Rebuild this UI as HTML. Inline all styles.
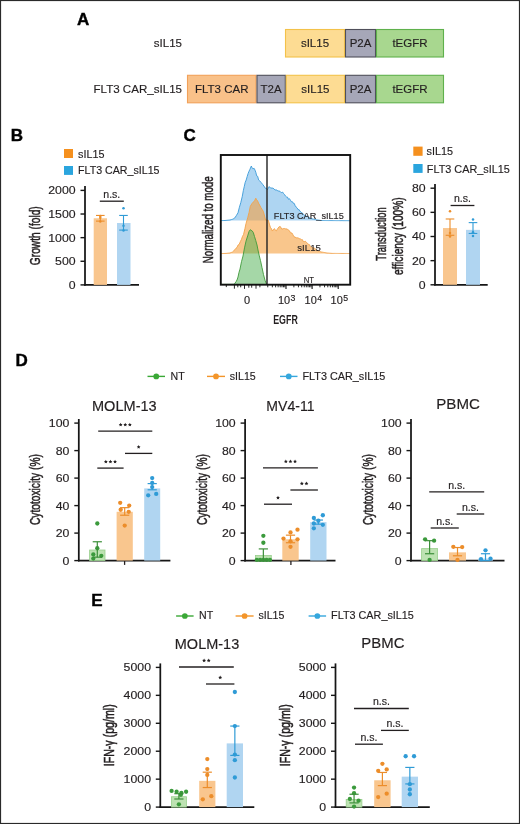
<!DOCTYPE html>
<html><head><meta charset="utf-8"><style>
html,body{margin:0;padding:0;background:#fff;}
svg{display:block;will-change:transform;}
text{font-family:"Liberation Sans", sans-serif;}
</style></head><body>
<svg width="520" height="824" viewBox="0 0 520 824" font-family='"Liberation Sans", sans-serif' fill="#231f20">
<rect x="0" y="0" width="520" height="824" fill="#fff"/>
<rect x="0.5" y="0.5" width="519" height="823" fill="none" stroke="#2a2a2a" stroke-width="1.2"/>
<text x="77" y="24.9" font-size="17" font-weight="bold" fill="#000" stroke="#000" stroke-width="0.4">A</text>
<text x="10.8" y="140.8" font-size="17" font-weight="bold" fill="#000" stroke="#000" stroke-width="0.4">B</text>
<text x="183.5" y="140.6" font-size="17" font-weight="bold" fill="#000" stroke="#000" stroke-width="0.4">C</text>
<text x="15.6" y="365.8" font-size="17" font-weight="bold" fill="#000" stroke="#000" stroke-width="0.4">D</text>
<text x="91.2" y="605.6" font-size="17" font-weight="bold" fill="#000" stroke="#000" stroke-width="0.4">E</text>
<rect x="285.5" y="29.5" width="59" height="27.5" fill="#fddc93" stroke="#f3c24a" stroke-width="1.1"/>
<text x="315" y="47.45" font-size="11.5" text-anchor="middle" stroke="#231f20" stroke-width="0.15">sIL15</text>
<rect x="345.5" y="29.5" width="30" height="27.5" fill="#a6a7b8" stroke="#4f4f5a" stroke-width="1.1"/>
<text x="360.5" y="47.45" font-size="11.5" text-anchor="middle" stroke="#231f20" stroke-width="0.15">P2A</text>
<rect x="376.5" y="29.5" width="67" height="27.5" fill="#a8d78f" stroke="#5fb14c" stroke-width="1.1"/>
<text x="410" y="47.45" font-size="11.5" text-anchor="middle" stroke="#231f20" stroke-width="0.15">tEGFR</text>
<rect x="187.5" y="75.3" width="68.5" height="27.5" fill="#f9c189" stroke="#f1a15a" stroke-width="1.1"/>
<text x="221.75" y="93.25" font-size="11.5" text-anchor="middle" stroke="#231f20" stroke-width="0.15">FLT3 CAR</text>
<rect x="257" y="75.3" width="28.3" height="27.5" fill="#a6a7b8" stroke="#4f4f5a" stroke-width="1.1"/>
<text x="271.15" y="93.25" font-size="11.5" text-anchor="middle" stroke="#231f20" stroke-width="0.15">T2A</text>
<rect x="286.3" y="75.3" width="58.2" height="27.5" fill="#fddc93" stroke="#f3c24a" stroke-width="1.1"/>
<text x="315.4" y="93.25" font-size="11.5" text-anchor="middle" stroke="#231f20" stroke-width="0.15">sIL15</text>
<rect x="345.5" y="75.3" width="30" height="27.5" fill="#a6a7b8" stroke="#4f4f5a" stroke-width="1.1"/>
<text x="360.5" y="93.25" font-size="11.5" text-anchor="middle" stroke="#231f20" stroke-width="0.15">P2A</text>
<rect x="376.5" y="75.3" width="67" height="27.5" fill="#a8d78f" stroke="#5fb14c" stroke-width="1.1"/>
<text x="410" y="93.25" font-size="11.5" text-anchor="middle" stroke="#231f20" stroke-width="0.15">tEGFR</text>
<text x="182" y="47.2" font-size="11.5" text-anchor="end" stroke="#231f20" stroke-width="0.15">sIL15</text>
<text x="182" y="93.2" font-size="11.5" text-anchor="end" textLength="88.5" lengthAdjust="spacingAndGlyphs" stroke="#231f20" stroke-width="0.15">FLT3 CAR_sIL15</text>
<rect x="64" y="149" width="9" height="9" fill="#f5901e"/>
<text x="78" y="157.6" font-size="10.8" stroke="#231f20" stroke-width="0.15">sIL15</text>
<rect x="64" y="166" width="9" height="8.9" fill="#2aa5de"/>
<text x="78" y="173.8" font-size="10.8" textLength="81.5" lengthAdjust="spacingAndGlyphs" stroke="#231f20" stroke-width="0.15">FLT3 CAR_sIL15</text>
<line x1="85" y1="186" x2="85" y2="285.7" stroke="#161616" stroke-width="1.75"/>
<line x1="84.2" y1="284.9" x2="139" y2="284.9" stroke="#161616" stroke-width="1.75"/>
<line x1="80.5" y1="284.9" x2="85" y2="284.9" stroke="#161616" stroke-width="1.4"/>
<text x="75.6" y="288.79" font-size="10.8" text-anchor="end" textLength="6.85" lengthAdjust="spacingAndGlyphs" stroke="#231f20" stroke-width="0.15">0</text>
<line x1="80.5" y1="261.27" x2="85" y2="261.27" stroke="#161616" stroke-width="1.4"/>
<text x="75.6" y="265.16" font-size="10.8" text-anchor="end" textLength="20.55" lengthAdjust="spacingAndGlyphs" stroke="#231f20" stroke-width="0.15">500</text>
<line x1="80.5" y1="237.65" x2="85" y2="237.65" stroke="#161616" stroke-width="1.4"/>
<text x="75.6" y="241.54" font-size="10.8" text-anchor="end" textLength="27.4" lengthAdjust="spacingAndGlyphs" stroke="#231f20" stroke-width="0.15">1000</text>
<line x1="80.5" y1="214.02" x2="85" y2="214.02" stroke="#161616" stroke-width="1.4"/>
<text x="75.6" y="217.91" font-size="10.8" text-anchor="end" textLength="27.4" lengthAdjust="spacingAndGlyphs" stroke="#231f20" stroke-width="0.15">1500</text>
<line x1="80.5" y1="190.4" x2="85" y2="190.4" stroke="#161616" stroke-width="1.4"/>
<text x="75.6" y="194.29" font-size="10.8" text-anchor="end" textLength="27.4" lengthAdjust="spacingAndGlyphs" stroke="#231f20" stroke-width="0.15">2000</text>
<rect x="93.7" y="218.28" width="13.3" height="66.62" fill="#f9c68e"/>
<rect x="117" y="223" width="13.5" height="61.9" fill="#b0d5f1"/>
<line x1="100.3" y1="215.44" x2="100.3" y2="221.11" stroke="#ec8d2a" stroke-width="1.1"/>
<line x1="96" y1="215.44" x2="104.6" y2="215.44" stroke="#ec8d2a" stroke-width="1.1"/>
<line x1="96" y1="221.11" x2="104.6" y2="221.11" stroke="#ec8d2a" stroke-width="1.1"/>
<circle cx="100.3" cy="215.91" r="1.25" fill="#ec8d2a"/>
<circle cx="100.3" cy="217.8" r="1.25" fill="#ec8d2a"/>
<circle cx="100.3" cy="221.58" r="1.25" fill="#ec8d2a"/>
<line x1="123.5" y1="215.44" x2="123.5" y2="230.09" stroke="#2f9bd6" stroke-width="1.1"/>
<line x1="119.2" y1="215.44" x2="127.8" y2="215.44" stroke="#2f9bd6" stroke-width="1.1"/>
<line x1="119.2" y1="230.09" x2="127.8" y2="230.09" stroke="#2f9bd6" stroke-width="1.1"/>
<circle cx="123.5" cy="208.35" r="1.25" fill="#2f9bd6"/>
<circle cx="123.5" cy="225.84" r="1.25" fill="#2f9bd6"/>
<circle cx="123.5" cy="230.56" r="1.25" fill="#2f9bd6"/>
<line x1="99.8" y1="201.2" x2="123.8" y2="201.2" stroke="#231f20" stroke-width="1.3"/>
<text x="111.8" y="197.9" font-size="10.4" text-anchor="middle" textLength="17" lengthAdjust="spacingAndGlyphs" stroke="#231f20" stroke-width="0.15">n.s.</text>
<text x="39.8" y="235.7" font-size="14.8" text-anchor="middle" textLength="58.9" lengthAdjust="spacingAndGlyphs" transform="rotate(-90 39.8 235.7)" stroke="#231f20" stroke-width="0.5">Growth (fold)</text>
<path d="M220.8 220.6 L220.8 220.6 L221.85 220.57 L222.9 220.55 L223.95 220.53 L225 220.5 L226 220.4 L227 220.3 L228 220.2 L229 220.1 L230 220 L231.35 219.6 L232.7 219.2 L233.75 218.6 L234.8 217.9 L236.5 215.32 L238 212.77 L239.4 207.23 L240.8 202.56 L242.3 196.26 L243.3 190.7 L244.2 186.81 L245.2 182.37 L246.2 179.98 L247.2 176.43 L248.1 173.56 L249 171.26 L250 169.19 L251.3 166.02 L252.1 167.7 L252.9 168.83 L254.2 168.41 L255 170.14 L255.8 172.21 L256.7 175.86 L257.7 176.38 L258.6 179.95 L259.6 180.72 L261 182.36 L262.5 184.21 L264 186.16 L265.4 188.37 L266.35 188.18 L267.3 189.85 L268.3 188.25 L269.2 186.57 L270.6 188.09 L272.1 188.01 L273.07 188.31 L274.03 188.87 L275 190.02 L275.95 189.92 L276.9 190.07 L277.85 190.9 L278.8 191.02 L279.77 191.11 L280.75 192.38 L281.73 192.58 L282.7 192.14 L283.65 193.68 L284.6 194.55 L285.55 196.18 L286.5 196.91 L287.48 197.07 L288.45 199.26 L289.42 198.66 L290.4 200.15 L291.35 201.74 L292.3 201.62 L293.25 203.21 L294.2 203.37 L295.18 205.7 L296.15 207.08 L297.12 207.93 L298.1 209.68 L299.05 209.61 L300 211.25 L300.95 212.02 L301.9 212.94 L302.88 213.46 L303.85 214.74 L304.82 215.54 L305.8 215.67 L306.73 216.39 L307.67 216.39 L308.6 217.45 L309.57 217.83 L310.53 218.44 L311.5 218.6 L312.47 218.87 L313.43 219.13 L314.4 219.4 L315.37 219.57 L316.33 219.73 L317.3 219.9 L318.23 220.05 L319.15 220.2 L320.07 220.35 L321 220.5 L321.91 220.51 L322.82 220.51 L323.74 220.52 L324.65 220.53 L325.56 220.53 L326.48 220.54 L327.39 220.54 L328.3 220.55 L329.21 220.56 L330.12 220.56 L331.04 220.57 L331.95 220.57 L332.86 220.58 L333.77 220.59 L334.69 220.59 L335.6 220.6 L336.51 220.61 L337.43 220.61 L338.34 220.62 L339.25 220.62 L340.16 220.63 L341.07 220.64 L341.99 220.64 L342.9 220.65 L343.81 220.66 L344.72 220.66 L345.64 220.67 L346.55 220.67 L347.46 220.68 L348.38 220.69 L349.29 220.69 L350.2 220.7 L350.2 220.6 Z" fill="#3d9be0" fill-opacity="0.42"/>
<path d="M220.8 220.6 L221.85 220.57 L222.9 220.55 L223.95 220.53 L225 220.5 L226 220.4 L227 220.3 L228 220.2 L229 220.1 L230 220 L231.35 219.6 L232.7 219.2 L233.75 218.6 L234.8 217.9 L236.5 215.32 L238 212.77 L239.4 207.23 L240.8 202.56 L242.3 196.26 L243.3 190.7 L244.2 186.81 L245.2 182.37 L246.2 179.98 L247.2 176.43 L248.1 173.56 L249 171.26 L250 169.19 L251.3 166.02 L252.1 167.7 L252.9 168.83 L254.2 168.41 L255 170.14 L255.8 172.21 L256.7 175.86 L257.7 176.38 L258.6 179.95 L259.6 180.72 L261 182.36 L262.5 184.21 L264 186.16 L265.4 188.37 L266.35 188.18 L267.3 189.85 L268.3 188.25 L269.2 186.57 L270.6 188.09 L272.1 188.01 L273.07 188.31 L274.03 188.87 L275 190.02 L275.95 189.92 L276.9 190.07 L277.85 190.9 L278.8 191.02 L279.77 191.11 L280.75 192.38 L281.73 192.58 L282.7 192.14 L283.65 193.68 L284.6 194.55 L285.55 196.18 L286.5 196.91 L287.48 197.07 L288.45 199.26 L289.42 198.66 L290.4 200.15 L291.35 201.74 L292.3 201.62 L293.25 203.21 L294.2 203.37 L295.18 205.7 L296.15 207.08 L297.12 207.93 L298.1 209.68 L299.05 209.61 L300 211.25 L300.95 212.02 L301.9 212.94 L302.88 213.46 L303.85 214.74 L304.82 215.54 L305.8 215.67 L306.73 216.39 L307.67 216.39 L308.6 217.45 L309.57 217.83 L310.53 218.44 L311.5 218.6 L312.47 218.87 L313.43 219.13 L314.4 219.4 L315.37 219.57 L316.33 219.73 L317.3 219.9 L318.23 220.05 L319.15 220.2 L320.07 220.35 L321 220.5 L321.91 220.51 L322.82 220.51 L323.74 220.52 L324.65 220.53 L325.56 220.53 L326.48 220.54 L327.39 220.54 L328.3 220.55 L329.21 220.56 L330.12 220.56 L331.04 220.57 L331.95 220.57 L332.86 220.58 L333.77 220.59 L334.69 220.59 L335.6 220.6 L336.51 220.61 L337.43 220.61 L338.34 220.62 L339.25 220.62 L340.16 220.63 L341.07 220.64 L341.99 220.64 L342.9 220.65 L343.81 220.66 L344.72 220.66 L345.64 220.67 L346.55 220.67 L347.46 220.68 L348.38 220.69 L349.29 220.69 L350.2 220.7" fill="none" stroke="#3a9ad8" stroke-width="0.9"/>
<path d="M220.8 253.5 L220.8 253.6 L221.84 253.56 L222.88 253.52 L223.92 253.48 L224.96 253.44 L226 253.4 L227 253.3 L228 253.2 L229 253.1 L230 253 L231.25 252.5 L232.5 252 L233.75 250.95 L235 249.31 L236 248.22 L237 247.44 L238.1 244.97 L239.2 244.33 L240.35 241.6 L241.5 239.31 L242.5 236.31 L243.5 234.68 L245 228.33 L246 223.55 L247.7 217.8 L249 212.67 L250.3 206.25 L252 203.51 L253.3 202.09 L254.5 200.89 L255.8 198.17 L256.6 200.16 L257.5 200.6 L258.5 203.05 L259.6 205.05 L261 207.69 L262.2 209.52 L263.3 211.37 L264.3 214.92 L265.6 220.12 L266.8 219.92 L268.4 220.37 L269.4 224.16 L270.4 227.37 L271.4 228.61 L272.4 231.05 L273.4 229.61 L274.4 228.62 L275.4 230.32 L276.4 230.84 L277.3 229.16 L278.2 227.98 L279.1 226.72 L280.45 226.65 L281.8 229.22 L283.15 228.65 L284.5 228.47 L285.85 228.99 L287.2 228.91 L288.2 229.97 L289.2 230.49 L290.55 232.74 L291.9 233.01 L292.9 234.72 L293.9 236.68 L295.03 237.06 L296.17 237.85 L297.3 237.79 L298.3 238.03 L299.3 238.62 L300.3 238.86 L301.3 239.65 L302.32 239.55 L303.35 241.57 L304.38 241.61 L305.4 241.27 L306.4 242.3 L307.4 243.33 L308.4 244.21 L309.4 244.62 L310.42 246.57 L311.45 247.41 L312.48 247.28 L313.5 247.98 L314.5 248.23 L315.5 248.98 L316.5 249.9 L317.5 250.55 L318.5 251.21 L319.5 251.19 L320.5 251.68 L321.5 252 L322.58 252.2 L323.66 252.4 L324.74 252.6 L325.82 252.8 L326.9 253 L327.92 253.08 L328.94 253.16 L329.96 253.24 L330.98 253.32 L332 253.4 L332.91 253.41 L333.82 253.41 L334.73 253.41 L335.64 253.42 L336.55 253.43 L337.46 253.43 L338.37 253.44 L339.28 253.44 L340.19 253.44 L341.1 253.45 L342.01 253.46 L342.92 253.46 L343.83 253.47 L344.74 253.47 L345.65 253.47 L346.56 253.48 L347.47 253.49 L348.38 253.49 L349.29 253.5 L350.2 253.5 L350.2 253.5 Z" fill="#f5a040" fill-opacity="0.6"/>
<path d="M220.8 253.6 L221.84 253.56 L222.88 253.52 L223.92 253.48 L224.96 253.44 L226 253.4 L227 253.3 L228 253.2 L229 253.1 L230 253 L231.25 252.5 L232.5 252 L233.75 250.95 L235 249.31 L236 248.22 L237 247.44 L238.1 244.97 L239.2 244.33 L240.35 241.6 L241.5 239.31 L242.5 236.31 L243.5 234.68 L245 228.33 L246 223.55 L247.7 217.8 L249 212.67 L250.3 206.25 L252 203.51 L253.3 202.09 L254.5 200.89 L255.8 198.17 L256.6 200.16 L257.5 200.6 L258.5 203.05 L259.6 205.05 L261 207.69 L262.2 209.52 L263.3 211.37 L264.3 214.92 L265.6 220.12 L266.8 219.92 L268.4 220.37 L269.4 224.16 L270.4 227.37 L271.4 228.61 L272.4 231.05 L273.4 229.61 L274.4 228.62 L275.4 230.32 L276.4 230.84 L277.3 229.16 L278.2 227.98 L279.1 226.72 L280.45 226.65 L281.8 229.22 L283.15 228.65 L284.5 228.47 L285.85 228.99 L287.2 228.91 L288.2 229.97 L289.2 230.49 L290.55 232.74 L291.9 233.01 L292.9 234.72 L293.9 236.68 L295.03 237.06 L296.17 237.85 L297.3 237.79 L298.3 238.03 L299.3 238.62 L300.3 238.86 L301.3 239.65 L302.32 239.55 L303.35 241.57 L304.38 241.61 L305.4 241.27 L306.4 242.3 L307.4 243.33 L308.4 244.21 L309.4 244.62 L310.42 246.57 L311.45 247.41 L312.48 247.28 L313.5 247.98 L314.5 248.23 L315.5 248.98 L316.5 249.9 L317.5 250.55 L318.5 251.21 L319.5 251.19 L320.5 251.68 L321.5 252 L322.58 252.2 L323.66 252.4 L324.74 252.6 L325.82 252.8 L326.9 253 L327.92 253.08 L328.94 253.16 L329.96 253.24 L330.98 253.32 L332 253.4 L332.91 253.41 L333.82 253.41 L334.73 253.41 L335.64 253.42 L336.55 253.43 L337.46 253.43 L338.37 253.44 L339.28 253.44 L340.19 253.44 L341.1 253.45 L342.01 253.46 L342.92 253.46 L343.83 253.47 L344.74 253.47 L345.65 253.47 L346.56 253.48 L347.47 253.49 L348.38 253.49 L349.29 253.5 L350.2 253.5" fill="none" stroke="#f2a24a" stroke-width="0.9"/>
<path d="M220.8 284.4 L220.8 284.4 L221.74 284.39 L222.69 284.39 L223.63 284.38 L224.57 284.37 L225.51 284.36 L226.46 284.36 L227.4 284.35 L228.34 284.34 L229.29 284.34 L230.23 284.33 L231.17 284.32 L232.11 284.31 L233.06 284.31 L234 284.3 L235 283.15 L236 281.74 L237 280 L238 277.05 L239 272.36 L240 269.08 L241.5 261.65 L243 256.05 L244.5 247.86 L246 241.15 L247.7 235.85 L249 231.57 L250.3 229.66 L251.2 230.4 L252 230.69 L253.3 232.56 L254.5 236.5 L255.8 240.69 L257 245 L258 250.06 L259.3 255.87 L260.5 260.63 L262 267.55 L263.5 274.57 L265 280.24 L266.5 284.3 L267 284.4 L267 284.4 Z" fill="#4caf50" fill-opacity="0.5"/>
<path d="M220.8 284.4 L221.74 284.39 L222.69 284.39 L223.63 284.38 L224.57 284.37 L225.51 284.36 L226.46 284.36 L227.4 284.35 L228.34 284.34 L229.29 284.34 L230.23 284.33 L231.17 284.32 L232.11 284.31 L233.06 284.31 L234 284.3 L235 283.15 L236 281.74 L237 280 L238 277.05 L239 272.36 L240 269.08 L241.5 261.65 L243 256.05 L244.5 247.86 L246 241.15 L247.7 235.85 L249 231.57 L250.3 229.66 L251.2 230.4 L252 230.69 L253.3 232.56 L254.5 236.5 L255.8 240.69 L257 245 L258 250.06 L259.3 255.87 L260.5 260.63 L262 267.55 L263.5 274.57 L265 280.24 L266.5 284.3 L267 284.4" fill="none" stroke="#3f9a3a" stroke-width="0.9"/>
<text x="273.8" y="219" font-size="9.8" textLength="70" lengthAdjust="spacingAndGlyphs" stroke="#231f20" stroke-width="0.15">FLT3 CAR_sIL15</text>
<text x="297.3" y="250.5" font-size="9.8" textLength="23.6" lengthAdjust="spacingAndGlyphs" stroke="#231f20" stroke-width="0.15">sIL15</text>
<text x="303.7" y="282.5" font-size="9.8" textLength="10.4" lengthAdjust="spacingAndGlyphs" stroke="#231f20" stroke-width="0.15">NT</text>
<line x1="267" y1="155" x2="267" y2="284.7" stroke="#222" stroke-width="1.4"/>
<rect x="220.8" y="155" width="129.4" height="129.7" fill="none" stroke="#111" stroke-width="1.9"/>
<line x1="286" y1="284.7" x2="286" y2="288.9" stroke="#111" stroke-width="1.1"/>
<line x1="312.1" y1="284.7" x2="312.1" y2="288.9" stroke="#111" stroke-width="1.1"/>
<line x1="338.2" y1="284.7" x2="338.2" y2="288.9" stroke="#111" stroke-width="1.1"/>
<line x1="267.76" y1="284.7" x2="267.76" y2="287.3" stroke="#111" stroke-width="0.9"/>
<line x1="272.35" y1="284.7" x2="272.35" y2="287.3" stroke="#111" stroke-width="0.9"/>
<line x1="275.61" y1="284.7" x2="275.61" y2="287.3" stroke="#111" stroke-width="0.9"/>
<line x1="278.14" y1="284.7" x2="278.14" y2="287.3" stroke="#111" stroke-width="0.9"/>
<line x1="280.21" y1="284.7" x2="280.21" y2="287.3" stroke="#111" stroke-width="0.9"/>
<line x1="281.96" y1="284.7" x2="281.96" y2="287.3" stroke="#111" stroke-width="0.9"/>
<line x1="283.47" y1="284.7" x2="283.47" y2="287.3" stroke="#111" stroke-width="0.9"/>
<line x1="284.81" y1="284.7" x2="284.81" y2="287.3" stroke="#111" stroke-width="0.9"/>
<line x1="293.86" y1="284.7" x2="293.86" y2="287.3" stroke="#111" stroke-width="0.9"/>
<line x1="298.45" y1="284.7" x2="298.45" y2="287.3" stroke="#111" stroke-width="0.9"/>
<line x1="301.71" y1="284.7" x2="301.71" y2="287.3" stroke="#111" stroke-width="0.9"/>
<line x1="304.24" y1="284.7" x2="304.24" y2="287.3" stroke="#111" stroke-width="0.9"/>
<line x1="306.31" y1="284.7" x2="306.31" y2="287.3" stroke="#111" stroke-width="0.9"/>
<line x1="308.06" y1="284.7" x2="308.06" y2="287.3" stroke="#111" stroke-width="0.9"/>
<line x1="309.57" y1="284.7" x2="309.57" y2="287.3" stroke="#111" stroke-width="0.9"/>
<line x1="310.91" y1="284.7" x2="310.91" y2="287.3" stroke="#111" stroke-width="0.9"/>
<line x1="319.96" y1="284.7" x2="319.96" y2="287.3" stroke="#111" stroke-width="0.9"/>
<line x1="324.55" y1="284.7" x2="324.55" y2="287.3" stroke="#111" stroke-width="0.9"/>
<line x1="327.81" y1="284.7" x2="327.81" y2="287.3" stroke="#111" stroke-width="0.9"/>
<line x1="330.34" y1="284.7" x2="330.34" y2="287.3" stroke="#111" stroke-width="0.9"/>
<line x1="332.41" y1="284.7" x2="332.41" y2="287.3" stroke="#111" stroke-width="0.9"/>
<line x1="334.16" y1="284.7" x2="334.16" y2="287.3" stroke="#111" stroke-width="0.9"/>
<line x1="335.67" y1="284.7" x2="335.67" y2="287.3" stroke="#111" stroke-width="0.9"/>
<line x1="337.01" y1="284.7" x2="337.01" y2="287.3" stroke="#111" stroke-width="0.9"/>
<line x1="226.3" y1="284.7" x2="226.3" y2="287.1" stroke="#111" stroke-width="0.9"/>
<line x1="234.4" y1="284.7" x2="234.4" y2="288.7" stroke="#111" stroke-width="0.9"/>
<line x1="237.8" y1="284.7" x2="237.8" y2="287.3" stroke="#111" stroke-width="0.9"/>
<line x1="240.7" y1="284.7" x2="240.7" y2="287.3" stroke="#111" stroke-width="0.9"/>
<line x1="244.5" y1="284.7" x2="244.5" y2="288.9" stroke="#111" stroke-width="0.9"/>
<line x1="248.8" y1="284.7" x2="248.8" y2="287.7" stroke="#111" stroke-width="0.9"/>
<line x1="251.7" y1="284.7" x2="251.7" y2="287.7" stroke="#111" stroke-width="0.9"/>
<line x1="256" y1="284.7" x2="256" y2="288.7" stroke="#111" stroke-width="0.9"/>
<line x1="259.9" y1="284.7" x2="259.9" y2="287.3" stroke="#111" stroke-width="0.9"/>
<text x="247.1" y="304.4" font-size="11" text-anchor="middle" stroke="#231f20" stroke-width="0.15">0</text>
<text x="277.9" y="304.4" font-size="11" textLength="12.2" lengthAdjust="spacingAndGlyphs" stroke="#231f20" stroke-width="0.15">10</text>
<text x="290.5" y="300.6" font-size="8.8" stroke="#231f20" stroke-width="0.15">3</text>
<text x="304.6" y="304.4" font-size="11" textLength="12.2" lengthAdjust="spacingAndGlyphs" stroke="#231f20" stroke-width="0.15">10</text>
<text x="317.2" y="300.6" font-size="8.8" stroke="#231f20" stroke-width="0.15">4</text>
<text x="330.6" y="304.4" font-size="11" textLength="12.2" lengthAdjust="spacingAndGlyphs" stroke="#231f20" stroke-width="0.15">10</text>
<text x="343.2" y="300.6" font-size="8.8" stroke="#231f20" stroke-width="0.15">5</text>
<text x="285.5" y="324.3" font-size="12.8" text-anchor="middle" font-weight="bold" textLength="24.6" lengthAdjust="spacingAndGlyphs">EGFR</text>
<text x="213.2" y="219.8" font-size="14.8" text-anchor="middle" textLength="86.8" lengthAdjust="spacingAndGlyphs" transform="rotate(-90 213.2 219.8)" stroke="#231f20" stroke-width="0.5">Normalized to mode</text>
<rect x="413.3" y="146.6" width="9.3" height="9.2" fill="#f5901e"/>
<text x="426.5" y="155" font-size="10.8" stroke="#231f20" stroke-width="0.15">sIL15</text>
<rect x="413.3" y="164" width="9.3" height="8.9" fill="#2aa5de"/>
<text x="426.8" y="172.6" font-size="10.8" textLength="83" lengthAdjust="spacingAndGlyphs" stroke="#231f20" stroke-width="0.15">FLT3 CAR_sIL15</text>
<line x1="435" y1="184.1" x2="435" y2="285.6" stroke="#161616" stroke-width="1.75"/>
<line x1="434.2" y1="284.8" x2="487.7" y2="284.8" stroke="#161616" stroke-width="1.75"/>
<line x1="430.5" y1="284.8" x2="435" y2="284.8" stroke="#161616" stroke-width="1.4"/>
<text x="425.6" y="288.69" font-size="10.8" text-anchor="end" textLength="6.85" lengthAdjust="spacingAndGlyphs" stroke="#231f20" stroke-width="0.15">0</text>
<line x1="430.5" y1="260.65" x2="435" y2="260.65" stroke="#161616" stroke-width="1.4"/>
<text x="425.6" y="264.54" font-size="10.8" text-anchor="end" textLength="13.7" lengthAdjust="spacingAndGlyphs" stroke="#231f20" stroke-width="0.15">20</text>
<line x1="430.5" y1="236.5" x2="435" y2="236.5" stroke="#161616" stroke-width="1.4"/>
<text x="425.6" y="240.39" font-size="10.8" text-anchor="end" textLength="13.7" lengthAdjust="spacingAndGlyphs" stroke="#231f20" stroke-width="0.15">40</text>
<line x1="430.5" y1="212.35" x2="435" y2="212.35" stroke="#161616" stroke-width="1.4"/>
<text x="425.6" y="216.24" font-size="10.8" text-anchor="end" textLength="13.7" lengthAdjust="spacingAndGlyphs" stroke="#231f20" stroke-width="0.15">60</text>
<line x1="430.5" y1="188.2" x2="435" y2="188.2" stroke="#161616" stroke-width="1.4"/>
<text x="425.6" y="192.09" font-size="10.8" text-anchor="end" textLength="13.7" lengthAdjust="spacingAndGlyphs" stroke="#231f20" stroke-width="0.15">80</text>
<rect x="443" y="228.05" width="14" height="56.75" fill="#f9c68e"/>
<rect x="466" y="229.86" width="14" height="54.94" fill="#b0d5f1"/>
<line x1="450" y1="218.99" x2="450" y2="235.29" stroke="#ec8d2a" stroke-width="1.1"/>
<line x1="445.7" y1="218.99" x2="454.3" y2="218.99" stroke="#ec8d2a" stroke-width="1.1"/>
<line x1="445.7" y1="235.29" x2="454.3" y2="235.29" stroke="#ec8d2a" stroke-width="1.1"/>
<circle cx="450" cy="211.14" r="1.25" fill="#ec8d2a"/>
<circle cx="450" cy="232.88" r="1.25" fill="#ec8d2a"/>
<circle cx="450" cy="236.5" r="1.25" fill="#ec8d2a"/>
<line x1="473" y1="222.61" x2="473" y2="233.48" stroke="#2f9bd6" stroke-width="1.1"/>
<line x1="468.7" y1="222.61" x2="477.3" y2="222.61" stroke="#2f9bd6" stroke-width="1.1"/>
<line x1="468.7" y1="233.48" x2="477.3" y2="233.48" stroke="#2f9bd6" stroke-width="1.1"/>
<circle cx="473" cy="219.6" r="1.25" fill="#2f9bd6"/>
<circle cx="473" cy="232.27" r="1.25" fill="#2f9bd6"/>
<circle cx="473" cy="235.9" r="1.25" fill="#2f9bd6"/>
<line x1="450.6" y1="205.5" x2="474.4" y2="205.5" stroke="#231f20" stroke-width="1.3"/>
<text x="462.5" y="202.4" font-size="10.4" text-anchor="middle" textLength="17" lengthAdjust="spacingAndGlyphs" stroke="#231f20" stroke-width="0.15">n.s.</text>
<text x="386.3" y="234" font-size="13.8" text-anchor="middle" textLength="53.4" lengthAdjust="spacingAndGlyphs" transform="rotate(-90 386.3 234)" stroke="#231f20" stroke-width="0.5">Transduction</text>
<text x="403" y="236.2" font-size="13.8" text-anchor="middle" textLength="77.7" lengthAdjust="spacingAndGlyphs" transform="rotate(-90 403 236.2)" stroke="#231f20" stroke-width="0.5">efficiency (100%)</text>
<line x1="147.5" y1="376.4" x2="165" y2="376.4" stroke="#3aa836" stroke-width="1.4"/>
<circle cx="156.25" cy="376.4" r="2.85" fill="#3aa836"/>
<text x="170.5" y="379.5" font-size="10.6" stroke="#231f20" stroke-width="0.15">NT</text>
<line x1="207" y1="376.4" x2="225" y2="376.4" stroke="#f3952a" stroke-width="1.4"/>
<circle cx="216" cy="376.4" r="2.85" fill="#f3952a"/>
<text x="229.8" y="379.5" font-size="10.6" stroke="#231f20" stroke-width="0.15">sIL15</text>
<line x1="280" y1="376.4" x2="297.5" y2="376.4" stroke="#35a7dd" stroke-width="1.4"/>
<circle cx="288.75" cy="376.4" r="2.85" fill="#35a7dd"/>
<text x="302.5" y="379.5" font-size="10.6" textLength="82.8" lengthAdjust="spacingAndGlyphs" stroke="#231f20" stroke-width="0.15">FLT3 CAR_sIL15</text>
<line x1="176.1" y1="616" x2="193.6" y2="616" stroke="#3aa836" stroke-width="1.4"/>
<circle cx="184.85" cy="616" r="2.85" fill="#3aa836"/>
<text x="199.1" y="619.1" font-size="10.6" stroke="#231f20" stroke-width="0.15">NT</text>
<line x1="235.6" y1="616" x2="253.6" y2="616" stroke="#f3952a" stroke-width="1.4"/>
<circle cx="244.6" cy="616" r="2.85" fill="#f3952a"/>
<text x="258.4" y="619.1" font-size="10.6" stroke="#231f20" stroke-width="0.15">sIL15</text>
<line x1="308.6" y1="616" x2="326.1" y2="616" stroke="#35a7dd" stroke-width="1.4"/>
<circle cx="317.35" cy="616" r="2.85" fill="#35a7dd"/>
<text x="331.1" y="619.1" font-size="10.6" textLength="82.8" lengthAdjust="spacingAndGlyphs" stroke="#231f20" stroke-width="0.15">FLT3 CAR_sIL15</text>
<text x="124.35" y="410.8" font-size="13.8" text-anchor="middle" textLength="64.7" lengthAdjust="spacingAndGlyphs" stroke="#231f20" stroke-width="0.15">MOLM-13</text>
<line x1="78.8" y1="419" x2="78.8" y2="561.4" stroke="#161616" stroke-width="1.75"/>
<line x1="78" y1="560.6" x2="170.4" y2="560.6" stroke="#161616" stroke-width="1.75"/>
<line x1="74.3" y1="560.6" x2="78.8" y2="560.6" stroke="#161616" stroke-width="1.4"/>
<text x="69.4" y="564.56" font-size="11" text-anchor="end" textLength="6.85" lengthAdjust="spacingAndGlyphs" stroke="#231f20" stroke-width="0.15">0</text>
<line x1="74.3" y1="533.1" x2="78.8" y2="533.1" stroke="#161616" stroke-width="1.4"/>
<text x="69.4" y="537.06" font-size="11" text-anchor="end" textLength="13.7" lengthAdjust="spacingAndGlyphs" stroke="#231f20" stroke-width="0.15">20</text>
<line x1="74.3" y1="505.6" x2="78.8" y2="505.6" stroke="#161616" stroke-width="1.4"/>
<text x="69.4" y="509.56" font-size="11" text-anchor="end" textLength="13.7" lengthAdjust="spacingAndGlyphs" stroke="#231f20" stroke-width="0.15">40</text>
<line x1="74.3" y1="478.1" x2="78.8" y2="478.1" stroke="#161616" stroke-width="1.4"/>
<text x="69.4" y="482.06" font-size="11" text-anchor="end" textLength="13.7" lengthAdjust="spacingAndGlyphs" stroke="#231f20" stroke-width="0.15">60</text>
<line x1="74.3" y1="450.6" x2="78.8" y2="450.6" stroke="#161616" stroke-width="1.4"/>
<text x="69.4" y="454.56" font-size="11" text-anchor="end" textLength="13.7" lengthAdjust="spacingAndGlyphs" stroke="#231f20" stroke-width="0.15">80</text>
<line x1="74.3" y1="423.1" x2="78.8" y2="423.1" stroke="#161616" stroke-width="1.4"/>
<text x="69.4" y="427.06" font-size="11" text-anchor="end" textLength="20.55" lengthAdjust="spacingAndGlyphs" stroke="#231f20" stroke-width="0.15">100</text>
<line x1="124.6" y1="560.6" x2="124.6" y2="564.9" stroke="#231f20" stroke-width="1.3"/>
<text x="40.4" y="489.6" font-size="14.3" text-anchor="middle" textLength="71" lengthAdjust="spacingAndGlyphs" transform="rotate(-90 40.4 489.6)" stroke="#231f20" stroke-width="0.5">Cytotoxicity (%)</text>
<rect x="89.6" y="550" width="15.4" height="10.6" fill="#bde2b2" stroke="#98cf8c" stroke-width="0.8"/>
<circle cx="97.3" cy="523.48" r="2.15" fill="#3b9a3c"/>
<circle cx="97.3" cy="548.23" r="2.15" fill="#3b9a3c"/>
<circle cx="93.3" cy="554.41" r="2.15" fill="#3b9a3c"/>
<circle cx="101.3" cy="555.79" r="2.15" fill="#3b9a3c"/>
<circle cx="93.3" cy="558.54" r="2.15" fill="#3b9a3c"/>
<line x1="97.3" y1="541.76" x2="97.3" y2="557.16" stroke="#3c8f39" stroke-width="1.2"/>
<line x1="92.7" y1="541.76" x2="101.9" y2="541.76" stroke="#3c8f39" stroke-width="1.2"/>
<line x1="92.7" y1="557.16" x2="101.9" y2="557.16" stroke="#3c8f39" stroke-width="1.2"/>
<rect x="116.6" y="511.79" width="16.2" height="48.81" fill="#f9c68e"/>
<circle cx="120.2" cy="502.85" r="2.15" fill="#ec8d2a"/>
<circle cx="129.2" cy="505.6" r="2.15" fill="#ec8d2a"/>
<circle cx="120.7" cy="509.73" r="2.15" fill="#ec8d2a"/>
<circle cx="128.7" cy="511.79" r="2.15" fill="#ec8d2a"/>
<circle cx="124.7" cy="525.54" r="2.15" fill="#ec8d2a"/>
<line x1="124.7" y1="507.66" x2="124.7" y2="515.23" stroke="#ec8d2a" stroke-width="1.2"/>
<line x1="120.1" y1="507.66" x2="129.3" y2="507.66" stroke="#ec8d2a" stroke-width="1.2"/>
<line x1="120.1" y1="515.23" x2="129.3" y2="515.23" stroke="#ec8d2a" stroke-width="1.2"/>
<rect x="144.2" y="488.41" width="16" height="72.19" fill="#b0d5f1"/>
<circle cx="152.2" cy="478.1" r="2.15" fill="#2f9bd6"/>
<circle cx="152.2" cy="482.91" r="2.15" fill="#2f9bd6"/>
<circle cx="152.2" cy="487.04" r="2.15" fill="#2f9bd6"/>
<circle cx="148.2" cy="495.29" r="2.15" fill="#2f9bd6"/>
<circle cx="156.2" cy="493.91" r="2.15" fill="#2f9bd6"/>
<line x1="152.2" y1="483.6" x2="152.2" y2="489.79" stroke="#2f9bd6" stroke-width="1.2"/>
<line x1="147.6" y1="483.6" x2="156.8" y2="483.6" stroke="#2f9bd6" stroke-width="1.2"/>
<line x1="147.6" y1="489.79" x2="156.8" y2="489.79" stroke="#2f9bd6" stroke-width="1.2"/>
<line x1="98.2" y1="431.1" x2="152.3" y2="431.1" stroke="#231f20" stroke-width="1.3"/>
<polygon points="120.65,422.7 121.24,423.89 122.55,424.08 121.6,425.01 121.83,426.32 120.65,425.7 119.47,426.32 119.7,425.01 118.75,424.08 120.06,423.89" fill="#231f20"/>
<polygon points="125.25,422.7 125.84,423.89 127.15,424.08 126.2,425.01 126.43,426.32 125.25,425.7 124.07,426.32 124.3,425.01 123.35,424.08 124.66,423.89" fill="#231f20"/>
<polygon points="129.85,422.7 130.44,423.89 131.75,424.08 130.8,425.01 131.03,426.32 129.85,425.7 128.67,426.32 128.9,425.01 127.95,424.08 129.26,423.89" fill="#231f20"/>
<line x1="125" y1="453.4" x2="152.3" y2="453.4" stroke="#231f20" stroke-width="1.3"/>
<polygon points="138.65,445 139.24,446.19 140.55,446.38 139.6,447.31 139.83,448.62 138.65,448 137.47,448.62 137.7,447.31 136.75,446.38 138.06,446.19" fill="#231f20"/>
<line x1="97.3" y1="468.1" x2="123.6" y2="468.1" stroke="#231f20" stroke-width="1.3"/>
<polygon points="105.85,459.7 106.44,460.89 107.75,461.08 106.8,462.01 107.03,463.32 105.85,462.7 104.67,463.32 104.9,462.01 103.95,461.08 105.26,460.89" fill="#231f20"/>
<polygon points="110.45,459.7 111.04,460.89 112.35,461.08 111.4,462.01 111.63,463.32 110.45,462.7 109.27,463.32 109.5,462.01 108.55,461.08 109.86,460.89" fill="#231f20"/>
<polygon points="115.05,459.7 115.64,460.89 116.95,461.08 116,462.01 116.23,463.32 115.05,462.7 113.87,463.32 114.1,462.01 113.15,461.08 114.46,460.89" fill="#231f20"/>
<text x="290.4" y="410.8" font-size="13.8" text-anchor="middle" textLength="48.2" lengthAdjust="spacingAndGlyphs" stroke="#231f20" stroke-width="0.15">MV4-11</text>
<line x1="245.1" y1="419" x2="245.1" y2="561.4" stroke="#161616" stroke-width="1.75"/>
<line x1="244.3" y1="560.6" x2="335.5" y2="560.6" stroke="#161616" stroke-width="1.75"/>
<line x1="240.6" y1="560.6" x2="245.1" y2="560.6" stroke="#161616" stroke-width="1.4"/>
<text x="235.7" y="564.56" font-size="11" text-anchor="end" textLength="6.85" lengthAdjust="spacingAndGlyphs" stroke="#231f20" stroke-width="0.15">0</text>
<line x1="240.6" y1="533.1" x2="245.1" y2="533.1" stroke="#161616" stroke-width="1.4"/>
<text x="235.7" y="537.06" font-size="11" text-anchor="end" textLength="13.7" lengthAdjust="spacingAndGlyphs" stroke="#231f20" stroke-width="0.15">20</text>
<line x1="240.6" y1="505.6" x2="245.1" y2="505.6" stroke="#161616" stroke-width="1.4"/>
<text x="235.7" y="509.56" font-size="11" text-anchor="end" textLength="13.7" lengthAdjust="spacingAndGlyphs" stroke="#231f20" stroke-width="0.15">40</text>
<line x1="240.6" y1="478.1" x2="245.1" y2="478.1" stroke="#161616" stroke-width="1.4"/>
<text x="235.7" y="482.06" font-size="11" text-anchor="end" textLength="13.7" lengthAdjust="spacingAndGlyphs" stroke="#231f20" stroke-width="0.15">60</text>
<line x1="240.6" y1="450.6" x2="245.1" y2="450.6" stroke="#161616" stroke-width="1.4"/>
<text x="235.7" y="454.56" font-size="11" text-anchor="end" textLength="13.7" lengthAdjust="spacingAndGlyphs" stroke="#231f20" stroke-width="0.15">80</text>
<line x1="240.6" y1="423.1" x2="245.1" y2="423.1" stroke="#161616" stroke-width="1.4"/>
<text x="235.7" y="427.06" font-size="11" text-anchor="end" textLength="20.55" lengthAdjust="spacingAndGlyphs" stroke="#231f20" stroke-width="0.15">100</text>
<line x1="290.9" y1="560.6" x2="290.9" y2="564.9" stroke="#231f20" stroke-width="1.3"/>
<text x="206.8" y="489.6" font-size="14.3" text-anchor="middle" textLength="71" lengthAdjust="spacingAndGlyphs" transform="rotate(-90 206.8 489.6)" stroke="#231f20" stroke-width="0.5">Cytotoxicity (%)</text>
<rect x="255.4" y="555.5" width="15.9" height="5.1" fill="#bde2b2" stroke="#98cf8c" stroke-width="0.8"/>
<circle cx="263.35" cy="535.85" r="2.15" fill="#3b9a3c"/>
<circle cx="263.35" cy="542.73" r="2.15" fill="#3b9a3c"/>
<circle cx="256.85" cy="559.91" r="2.15" fill="#3b9a3c"/>
<circle cx="260.15" cy="559.91" r="2.15" fill="#3b9a3c"/>
<circle cx="263.35" cy="559.91" r="2.15" fill="#3b9a3c"/>
<circle cx="266.65" cy="559.91" r="2.15" fill="#3b9a3c"/>
<circle cx="269.95" cy="559.91" r="2.15" fill="#3b9a3c"/>
<line x1="263.35" y1="548.91" x2="263.35" y2="560.6" stroke="#3c8f39" stroke-width="1.2"/>
<line x1="258.75" y1="548.91" x2="267.95" y2="548.91" stroke="#3c8f39" stroke-width="1.2"/>
<line x1="258.75" y1="560.6" x2="267.95" y2="560.6" stroke="#3c8f39" stroke-width="1.2"/>
<rect x="282.3" y="539.29" width="16.4" height="21.31" fill="#f9c68e"/>
<circle cx="297.5" cy="529.66" r="2.15" fill="#ec8d2a"/>
<circle cx="290.5" cy="532.41" r="2.15" fill="#ec8d2a"/>
<circle cx="283.5" cy="538.6" r="2.15" fill="#ec8d2a"/>
<circle cx="297.5" cy="539.29" r="2.15" fill="#ec8d2a"/>
<circle cx="290.5" cy="541.35" r="2.15" fill="#ec8d2a"/>
<circle cx="290.5" cy="546.85" r="2.15" fill="#ec8d2a"/>
<line x1="290.5" y1="535.16" x2="290.5" y2="542.73" stroke="#ec8d2a" stroke-width="1.2"/>
<line x1="285.9" y1="535.16" x2="295.1" y2="535.16" stroke="#ec8d2a" stroke-width="1.2"/>
<line x1="285.9" y1="542.73" x2="295.1" y2="542.73" stroke="#ec8d2a" stroke-width="1.2"/>
<rect x="310.2" y="522.1" width="16.3" height="38.5" fill="#b0d5f1"/>
<circle cx="313.85" cy="517.98" r="2.15" fill="#2f9bd6"/>
<circle cx="322.85" cy="515.23" r="2.15" fill="#2f9bd6"/>
<circle cx="318.35" cy="520.73" r="2.15" fill="#2f9bd6"/>
<circle cx="322.85" cy="524.85" r="2.15" fill="#2f9bd6"/>
<circle cx="313.85" cy="523.48" r="2.15" fill="#2f9bd6"/>
<circle cx="313.85" cy="528.29" r="2.15" fill="#2f9bd6"/>
<line x1="318.35" y1="520.04" x2="318.35" y2="524.16" stroke="#2f9bd6" stroke-width="1.2"/>
<line x1="313.75" y1="520.04" x2="322.95" y2="520.04" stroke="#2f9bd6" stroke-width="1.2"/>
<line x1="313.75" y1="524.16" x2="322.95" y2="524.16" stroke="#2f9bd6" stroke-width="1.2"/>
<line x1="263" y1="467.9" x2="317.9" y2="467.9" stroke="#231f20" stroke-width="1.3"/>
<polygon points="285.85,459.5 286.44,460.69 287.75,460.88 286.8,461.81 287.03,463.12 285.85,462.5 284.67,463.12 284.9,461.81 283.95,460.88 285.26,460.69" fill="#231f20"/>
<polygon points="290.45,459.5 291.04,460.69 292.35,460.88 291.4,461.81 291.63,463.12 290.45,462.5 289.27,463.12 289.5,461.81 288.55,460.88 289.86,460.69" fill="#231f20"/>
<polygon points="295.05,459.5 295.64,460.69 296.95,460.88 296,461.81 296.23,463.12 295.05,462.5 293.87,463.12 294.1,461.81 293.15,460.88 294.46,460.69" fill="#231f20"/>
<line x1="290.4" y1="490" x2="317.9" y2="490" stroke="#231f20" stroke-width="1.3"/>
<polygon points="301.85,481.6 302.44,482.79 303.75,482.98 302.8,483.91 303.03,485.22 301.85,484.6 300.67,485.22 300.9,483.91 299.95,482.98 301.26,482.79" fill="#231f20"/>
<polygon points="306.45,481.6 307.04,482.79 308.35,482.98 307.4,483.91 307.63,485.22 306.45,484.6 305.27,485.22 305.5,483.91 304.55,482.98 305.86,482.79" fill="#231f20"/>
<line x1="264" y1="504.2" x2="292" y2="504.2" stroke="#231f20" stroke-width="1.3"/>
<polygon points="278,495.8 278.59,496.99 279.9,497.18 278.95,498.11 279.18,499.42 278,498.8 276.82,499.42 277.05,498.11 276.1,497.18 277.41,496.99" fill="#231f20"/>
<text x="458.1" y="408.6" font-size="13.8" text-anchor="middle" textLength="43.6" lengthAdjust="spacingAndGlyphs" stroke="#231f20" stroke-width="0.15">PBMC</text>
<line x1="411" y1="419" x2="411" y2="561.4" stroke="#161616" stroke-width="1.75"/>
<line x1="410.2" y1="560.6" x2="504.5" y2="560.6" stroke="#161616" stroke-width="1.75"/>
<line x1="406.5" y1="560.6" x2="411" y2="560.6" stroke="#161616" stroke-width="1.4"/>
<text x="401.6" y="564.56" font-size="11" text-anchor="end" textLength="6.85" lengthAdjust="spacingAndGlyphs" stroke="#231f20" stroke-width="0.15">0</text>
<line x1="406.5" y1="533.1" x2="411" y2="533.1" stroke="#161616" stroke-width="1.4"/>
<text x="401.6" y="537.06" font-size="11" text-anchor="end" textLength="13.7" lengthAdjust="spacingAndGlyphs" stroke="#231f20" stroke-width="0.15">20</text>
<line x1="406.5" y1="505.6" x2="411" y2="505.6" stroke="#161616" stroke-width="1.4"/>
<text x="401.6" y="509.56" font-size="11" text-anchor="end" textLength="13.7" lengthAdjust="spacingAndGlyphs" stroke="#231f20" stroke-width="0.15">40</text>
<line x1="406.5" y1="478.1" x2="411" y2="478.1" stroke="#161616" stroke-width="1.4"/>
<text x="401.6" y="482.06" font-size="11" text-anchor="end" textLength="13.7" lengthAdjust="spacingAndGlyphs" stroke="#231f20" stroke-width="0.15">60</text>
<line x1="406.5" y1="450.6" x2="411" y2="450.6" stroke="#161616" stroke-width="1.4"/>
<text x="401.6" y="454.56" font-size="11" text-anchor="end" textLength="13.7" lengthAdjust="spacingAndGlyphs" stroke="#231f20" stroke-width="0.15">80</text>
<line x1="406.5" y1="423.1" x2="411" y2="423.1" stroke="#161616" stroke-width="1.4"/>
<text x="401.6" y="427.06" font-size="11" text-anchor="end" textLength="20.55" lengthAdjust="spacingAndGlyphs" stroke="#231f20" stroke-width="0.15">100</text>
<text x="372.8" y="489.6" font-size="14.3" text-anchor="middle" textLength="71" lengthAdjust="spacingAndGlyphs" transform="rotate(-90 372.8 489.6)" stroke="#231f20" stroke-width="0.5">Cytotoxicity (%)</text>
<rect x="421.6" y="548.62" width="16" height="11.97" fill="#bde2b2" stroke="#98cf8c" stroke-width="0.8"/>
<circle cx="425.1" cy="539.29" r="2.15" fill="#3b9a3c"/>
<circle cx="434.1" cy="540.66" r="2.15" fill="#3b9a3c"/>
<circle cx="429.6" cy="559.91" r="2.15" fill="#3b9a3c"/>
<line x1="429.6" y1="540.66" x2="429.6" y2="553.73" stroke="#3c8f39" stroke-width="1.2"/>
<line x1="425" y1="540.66" x2="434.2" y2="540.66" stroke="#3c8f39" stroke-width="1.2"/>
<line x1="425" y1="553.73" x2="434.2" y2="553.73" stroke="#3c8f39" stroke-width="1.2"/>
<rect x="449" y="552.35" width="17" height="8.25" fill="#f9c68e"/>
<circle cx="453.3" cy="546.85" r="2.15" fill="#ec8d2a"/>
<circle cx="462.2" cy="547.12" r="2.15" fill="#ec8d2a"/>
<circle cx="457.5" cy="559.91" r="2.15" fill="#ec8d2a"/>
<line x1="457.5" y1="547.54" x2="457.5" y2="555.79" stroke="#ec8d2a" stroke-width="1.2"/>
<line x1="452.9" y1="547.54" x2="462.1" y2="547.54" stroke="#ec8d2a" stroke-width="1.2"/>
<line x1="452.9" y1="555.79" x2="462.1" y2="555.79" stroke="#ec8d2a" stroke-width="1.2"/>
<rect x="478" y="558.54" width="15" height="2.06" fill="#b0d5f1"/>
<circle cx="485.5" cy="550.29" r="2.15" fill="#2f9bd6"/>
<circle cx="481" cy="559.23" r="2.15" fill="#2f9bd6"/>
<circle cx="490.5" cy="558.68" r="2.15" fill="#2f9bd6"/>
<line x1="485.5" y1="553.73" x2="485.5" y2="560.6" stroke="#2f9bd6" stroke-width="1.2"/>
<line x1="480.9" y1="553.73" x2="490.1" y2="553.73" stroke="#2f9bd6" stroke-width="1.2"/>
<line x1="480.9" y1="560.6" x2="490.1" y2="560.6" stroke="#2f9bd6" stroke-width="1.2"/>
<line x1="429.2" y1="491.8" x2="484.2" y2="491.8" stroke="#231f20" stroke-width="1.3"/>
<text x="456.7" y="488.5" font-size="10.4" text-anchor="middle" textLength="17" lengthAdjust="spacingAndGlyphs" stroke="#231f20" stroke-width="0.15">n.s.</text>
<line x1="456.7" y1="514" x2="484.2" y2="514" stroke="#231f20" stroke-width="1.3"/>
<text x="470.45" y="510.7" font-size="10.4" text-anchor="middle" textLength="17" lengthAdjust="spacingAndGlyphs" stroke="#231f20" stroke-width="0.15">n.s.</text>
<line x1="430.7" y1="528" x2="458.8" y2="528" stroke="#231f20" stroke-width="1.3"/>
<text x="444.75" y="524.7" font-size="10.4" text-anchor="middle" textLength="17" lengthAdjust="spacingAndGlyphs" stroke="#231f20" stroke-width="0.15">n.s.</text>
<text x="207" y="648.7" font-size="13.8" text-anchor="middle" textLength="64.4" lengthAdjust="spacingAndGlyphs" stroke="#231f20" stroke-width="0.15">MOLM-13</text>
<line x1="160.3" y1="663.4" x2="160.3" y2="807.9" stroke="#161616" stroke-width="1.75"/>
<line x1="159.5" y1="807.1" x2="254.3" y2="807.1" stroke="#161616" stroke-width="1.75"/>
<line x1="155.8" y1="807.1" x2="160.3" y2="807.1" stroke="#161616" stroke-width="1.4"/>
<text x="151" y="811.06" font-size="11" text-anchor="end" textLength="6.85" lengthAdjust="spacingAndGlyphs" stroke="#231f20" stroke-width="0.15">0</text>
<line x1="155.8" y1="779.16" x2="160.3" y2="779.16" stroke="#161616" stroke-width="1.4"/>
<text x="151" y="783.12" font-size="11" text-anchor="end" textLength="27.4" lengthAdjust="spacingAndGlyphs" stroke="#231f20" stroke-width="0.15">1000</text>
<line x1="155.8" y1="751.22" x2="160.3" y2="751.22" stroke="#161616" stroke-width="1.4"/>
<text x="151" y="755.18" font-size="11" text-anchor="end" textLength="27.4" lengthAdjust="spacingAndGlyphs" stroke="#231f20" stroke-width="0.15">2000</text>
<line x1="155.8" y1="723.28" x2="160.3" y2="723.28" stroke="#161616" stroke-width="1.4"/>
<text x="151" y="727.24" font-size="11" text-anchor="end" textLength="27.4" lengthAdjust="spacingAndGlyphs" stroke="#231f20" stroke-width="0.15">3000</text>
<line x1="155.8" y1="695.34" x2="160.3" y2="695.34" stroke="#161616" stroke-width="1.4"/>
<text x="151" y="699.3" font-size="11" text-anchor="end" textLength="27.4" lengthAdjust="spacingAndGlyphs" stroke="#231f20" stroke-width="0.15">4000</text>
<line x1="155.8" y1="667.4" x2="160.3" y2="667.4" stroke="#161616" stroke-width="1.4"/>
<text x="151" y="671.36" font-size="11" text-anchor="end" textLength="27.4" lengthAdjust="spacingAndGlyphs" stroke="#231f20" stroke-width="0.15">5000</text>
<text x="114.4" y="735.3" font-size="13.8" text-anchor="middle" textLength="62" lengthAdjust="spacingAndGlyphs" transform="rotate(-90 114.4 735.3)" stroke="#231f20" stroke-width="0.5">IFN-γ (pg/ml)</text>
<rect x="171.4" y="796.74" width="15" height="10.36" fill="#bde2b2" stroke="#98cf8c" stroke-width="0.8"/>
<circle cx="171.6" cy="790.89" r="2.15" fill="#3b9a3c"/>
<circle cx="176.6" cy="791.73" r="2.15" fill="#3b9a3c"/>
<circle cx="181.4" cy="792.85" r="2.15" fill="#3b9a3c"/>
<circle cx="186.1" cy="791.73" r="2.15" fill="#3b9a3c"/>
<circle cx="180.9" cy="794.81" r="2.15" fill="#3b9a3c"/>
<circle cx="178.9" cy="804.31" r="2.15" fill="#3b9a3c"/>
<line x1="178.9" y1="793.69" x2="178.9" y2="799" stroke="#3c8f39" stroke-width="1.2"/>
<line x1="174.3" y1="793.69" x2="183.5" y2="793.69" stroke="#3c8f39" stroke-width="1.2"/>
<line x1="174.3" y1="799" x2="183.5" y2="799" stroke="#3c8f39" stroke-width="1.2"/>
<rect x="199.2" y="780.84" width="16.2" height="26.26" fill="#f9c68e"/>
<circle cx="207.3" cy="759.04" r="2.15" fill="#ec8d2a"/>
<circle cx="207.3" cy="769.1" r="2.15" fill="#ec8d2a"/>
<circle cx="207.3" cy="774.97" r="2.15" fill="#ec8d2a"/>
<circle cx="202.8" cy="799.28" r="2.15" fill="#ec8d2a"/>
<circle cx="211.3" cy="796.2" r="2.15" fill="#ec8d2a"/>
<line x1="207.3" y1="772.18" x2="207.3" y2="787.54" stroke="#ec8d2a" stroke-width="1.2"/>
<line x1="202.7" y1="772.18" x2="211.9" y2="772.18" stroke="#ec8d2a" stroke-width="1.2"/>
<line x1="202.7" y1="787.54" x2="211.9" y2="787.54" stroke="#ec8d2a" stroke-width="1.2"/>
<rect x="226.7" y="743.4" width="16.3" height="63.7" fill="#b0d5f1"/>
<circle cx="234.85" cy="691.99" r="2.15" fill="#2f9bd6"/>
<circle cx="234.85" cy="726.07" r="2.15" fill="#2f9bd6"/>
<circle cx="234.85" cy="754.57" r="2.15" fill="#2f9bd6"/>
<circle cx="234.85" cy="760.16" r="2.15" fill="#2f9bd6"/>
<circle cx="234.85" cy="777.48" r="2.15" fill="#2f9bd6"/>
<line x1="234.85" y1="726.07" x2="234.85" y2="755.41" stroke="#2f9bd6" stroke-width="1.2"/>
<line x1="230.25" y1="726.07" x2="239.45" y2="726.07" stroke="#2f9bd6" stroke-width="1.2"/>
<line x1="230.25" y1="755.41" x2="239.45" y2="755.41" stroke="#2f9bd6" stroke-width="1.2"/>
<line x1="179" y1="667" x2="233.8" y2="667" stroke="#231f20" stroke-width="1.3"/>
<polygon points="204.1,658.6 204.69,659.79 206,659.98 205.05,660.91 205.28,662.22 204.1,661.6 202.92,662.22 203.15,660.91 202.2,659.98 203.51,659.79" fill="#231f20"/>
<polygon points="208.7,658.6 209.29,659.79 210.6,659.98 209.65,660.91 209.88,662.22 208.7,661.6 207.52,662.22 207.75,660.91 206.8,659.98 208.11,659.79" fill="#231f20"/>
<line x1="206" y1="684" x2="234.4" y2="684" stroke="#231f20" stroke-width="1.3"/>
<polygon points="220.2,675.6 220.79,676.79 222.1,676.98 221.15,677.91 221.38,679.22 220.2,678.6 219.02,679.22 219.25,677.91 218.3,676.98 219.61,676.79" fill="#231f20"/>
<text x="382.9" y="648.4" font-size="13.8" text-anchor="middle" textLength="43.2" lengthAdjust="spacingAndGlyphs" stroke="#231f20" stroke-width="0.15">PBMC</text>
<line x1="335.5" y1="663.4" x2="335.5" y2="807.9" stroke="#161616" stroke-width="1.75"/>
<line x1="334.7" y1="807.1" x2="429.8" y2="807.1" stroke="#161616" stroke-width="1.75"/>
<line x1="331" y1="807.1" x2="335.5" y2="807.1" stroke="#161616" stroke-width="1.4"/>
<text x="326.2" y="811.06" font-size="11" text-anchor="end" textLength="6.85" lengthAdjust="spacingAndGlyphs" stroke="#231f20" stroke-width="0.15">0</text>
<line x1="331" y1="779.16" x2="335.5" y2="779.16" stroke="#161616" stroke-width="1.4"/>
<text x="326.2" y="783.12" font-size="11" text-anchor="end" textLength="27.4" lengthAdjust="spacingAndGlyphs" stroke="#231f20" stroke-width="0.15">1000</text>
<line x1="331" y1="751.22" x2="335.5" y2="751.22" stroke="#161616" stroke-width="1.4"/>
<text x="326.2" y="755.18" font-size="11" text-anchor="end" textLength="27.4" lengthAdjust="spacingAndGlyphs" stroke="#231f20" stroke-width="0.15">2000</text>
<line x1="331" y1="723.28" x2="335.5" y2="723.28" stroke="#161616" stroke-width="1.4"/>
<text x="326.2" y="727.24" font-size="11" text-anchor="end" textLength="27.4" lengthAdjust="spacingAndGlyphs" stroke="#231f20" stroke-width="0.15">3000</text>
<line x1="331" y1="695.34" x2="335.5" y2="695.34" stroke="#161616" stroke-width="1.4"/>
<text x="326.2" y="699.3" font-size="11" text-anchor="end" textLength="27.4" lengthAdjust="spacingAndGlyphs" stroke="#231f20" stroke-width="0.15">4000</text>
<line x1="331" y1="667.4" x2="335.5" y2="667.4" stroke="#161616" stroke-width="1.4"/>
<text x="326.2" y="671.36" font-size="11" text-anchor="end" textLength="27.4" lengthAdjust="spacingAndGlyphs" stroke="#231f20" stroke-width="0.15">5000</text>
<text x="289.8" y="735.3" font-size="13.8" text-anchor="middle" textLength="62" lengthAdjust="spacingAndGlyphs" transform="rotate(-90 289.8 735.3)" stroke="#231f20" stroke-width="0.5">IFN-γ (pg/ml)</text>
<rect x="346.2" y="799.4" width="15.7" height="7.7" fill="#bde2b2" stroke="#98cf8c" stroke-width="0.8"/>
<circle cx="354.05" cy="787.54" r="2.15" fill="#3b9a3c"/>
<circle cx="354.05" cy="793.13" r="2.15" fill="#3b9a3c"/>
<circle cx="349.85" cy="799" r="2.15" fill="#3b9a3c"/>
<circle cx="358.55" cy="800.67" r="2.15" fill="#3b9a3c"/>
<circle cx="354.05" cy="806.54" r="2.15" fill="#3b9a3c"/>
<line x1="354.05" y1="794.25" x2="354.05" y2="802.91" stroke="#3c8f39" stroke-width="1.2"/>
<line x1="349.45" y1="794.25" x2="358.65" y2="794.25" stroke="#3c8f39" stroke-width="1.2"/>
<line x1="349.45" y1="802.91" x2="358.65" y2="802.91" stroke="#3c8f39" stroke-width="1.2"/>
<rect x="374.2" y="780.28" width="16.4" height="26.82" fill="#f9c68e"/>
<circle cx="382.4" cy="763.79" r="2.15" fill="#ec8d2a"/>
<circle cx="378.2" cy="770.78" r="2.15" fill="#ec8d2a"/>
<circle cx="386.7" cy="769.38" r="2.15" fill="#ec8d2a"/>
<circle cx="378.2" cy="797.04" r="2.15" fill="#ec8d2a"/>
<circle cx="386.7" cy="793.69" r="2.15" fill="#ec8d2a"/>
<line x1="382.4" y1="772.45" x2="382.4" y2="785.59" stroke="#ec8d2a" stroke-width="1.2"/>
<line x1="377.8" y1="772.45" x2="387" y2="772.45" stroke="#ec8d2a" stroke-width="1.2"/>
<line x1="377.8" y1="785.59" x2="387" y2="785.59" stroke="#ec8d2a" stroke-width="1.2"/>
<rect x="401.7" y="776.65" width="16.3" height="30.45" fill="#b0d5f1"/>
<circle cx="405.65" cy="756.25" r="2.15" fill="#2f9bd6"/>
<circle cx="414.05" cy="756.25" r="2.15" fill="#2f9bd6"/>
<circle cx="409.85" cy="784.19" r="2.15" fill="#2f9bd6"/>
<circle cx="409.85" cy="789.5" r="2.15" fill="#2f9bd6"/>
<circle cx="409.85" cy="794.25" r="2.15" fill="#2f9bd6"/>
<line x1="409.85" y1="767.43" x2="409.85" y2="783.91" stroke="#2f9bd6" stroke-width="1.2"/>
<line x1="405.25" y1="767.43" x2="414.45" y2="767.43" stroke="#2f9bd6" stroke-width="1.2"/>
<line x1="405.25" y1="783.91" x2="414.45" y2="783.91" stroke="#2f9bd6" stroke-width="1.2"/>
<line x1="354" y1="708.5" x2="408.8" y2="708.5" stroke="#231f20" stroke-width="1.3"/>
<text x="381.4" y="705.2" font-size="10.4" text-anchor="middle" textLength="17" lengthAdjust="spacingAndGlyphs" stroke="#231f20" stroke-width="0.15">n.s.</text>
<line x1="381" y1="730.4" x2="408.8" y2="730.4" stroke="#231f20" stroke-width="1.3"/>
<text x="394.9" y="727.1" font-size="10.4" text-anchor="middle" textLength="17" lengthAdjust="spacingAndGlyphs" stroke="#231f20" stroke-width="0.15">n.s.</text>
<line x1="355" y1="744.2" x2="382.9" y2="744.2" stroke="#231f20" stroke-width="1.3"/>
<text x="368.95" y="740.9" font-size="10.4" text-anchor="middle" textLength="17" lengthAdjust="spacingAndGlyphs" stroke="#231f20" stroke-width="0.15">n.s.</text>
</svg>
</body></html>
